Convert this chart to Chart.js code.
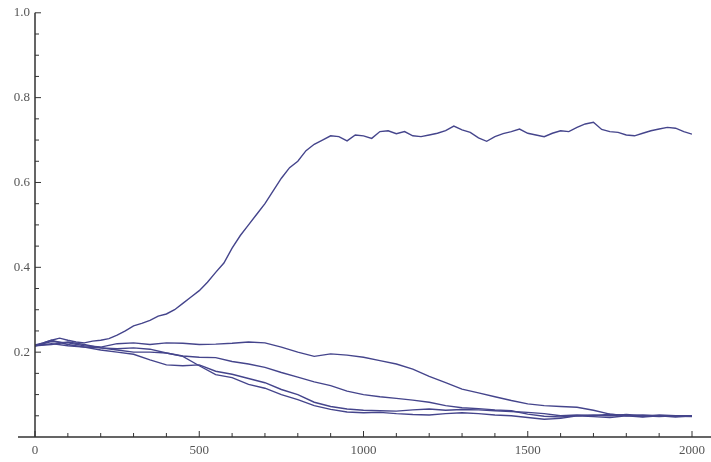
<!DOCTYPE html>
<html>
<head>
<meta charset="utf-8">
<script src="https://cdn.jsdelivr.net/npm/chart.js@4"></script>
<style>
  html, body { margin: 0; padding: 0; background: #fff; }
  #wrap { width: 711px; height: 462px; }
</style>
</head>
<body>
<div id="wrap"><canvas id="walkChart"></canvas></div>
<script>
// x positions (steps)
const stepsFine = [0, 25, 50, 75, 100, 125, 150, 175, 200, 225, 250, 275, 300, 325, 350, 375, 400, 425, 450, 475,
  500, 525, 550, 575, 600, 625, 650, 675, 700, 725, 750, 775, 800, 825, 850, 875, 900, 925, 950, 975,
  1000, 1025, 1050, 1075, 1100, 1125, 1150, 1175, 1200, 1225, 1250, 1275, 1300, 1325, 1350, 1375, 1400, 1425, 1450, 1475,
  1500, 1525, 1550, 1575, 1600, 1625, 1650, 1675, 1700, 1725, 1750, 1775, 1800, 1825, 1850, 1875, 1900, 1925, 1950, 1975, 2000];
const steps = [0, 50, 100, 150, 200, 250, 300, 350, 400, 450, 500, 550, 600, 650, 700, 750, 800, 850, 900, 950,
  1000, 1050, 1100, 1150, 1200, 1250, 1300, 1350, 1400, 1450, 1500, 1550, 1600, 1650, 1700, 1750, 1800, 1850, 1900, 1950, 2000];

// the one walk that climbs to ~0.72
const walkTop = [0.217, 0.222, 0.228, 0.233, 0.228, 0.224, 0.222, 0.226, 0.228, 0.232, 0.240, 0.250, 0.262, 0.268, 0.275, 0.285, 0.290, 0.300, 0.315, 0.330,
  0.345, 0.365, 0.388, 0.410, 0.445, 0.475, 0.500, 0.525, 0.550, 0.580, 0.610, 0.635, 0.650, 0.675, 0.690, 0.700, 0.710, 0.708, 0.698, 0.712,
  0.710, 0.704, 0.720, 0.722, 0.715, 0.720, 0.710, 0.708, 0.712, 0.716, 0.722, 0.733, 0.724, 0.718, 0.705, 0.697, 0.708, 0.715, 0.720, 0.726,
  0.716, 0.712, 0.708, 0.716, 0.722, 0.720, 0.730, 0.738, 0.742, 0.725, 0.720, 0.718, 0.712, 0.710, 0.716, 0.722, 0.726, 0.730, 0.728, 0.720, 0.714];

// the four walks that fall towards ~0.05
const walkB = [0.215, 0.225, 0.222, 0.215, 0.212, 0.220, 0.222, 0.218, 0.222, 0.221, 0.218, 0.219, 0.221, 0.224, 0.222, 0.212, 0.200, 0.190, 0.196, 0.193,
  0.188, 0.180, 0.172, 0.160, 0.143, 0.128, 0.113, 0.104, 0.095, 0.086, 0.078, 0.074, 0.072, 0.070, 0.063, 0.054, 0.050, 0.052, 0.050, 0.049, 0.048];
const walkC = [0.215, 0.220, 0.215, 0.212, 0.210, 0.208, 0.210, 0.207, 0.198, 0.191, 0.188, 0.187, 0.178, 0.172, 0.164, 0.152, 0.141, 0.130, 0.121, 0.108,
  0.100, 0.095, 0.091, 0.087, 0.082, 0.074, 0.069, 0.067, 0.064, 0.062, 0.054, 0.049, 0.047, 0.050, 0.052, 0.050, 0.053, 0.050, 0.048, 0.050, 0.049];
const walkD = [0.215, 0.228, 0.218, 0.212, 0.205, 0.200, 0.195, 0.182, 0.170, 0.168, 0.170, 0.155, 0.148, 0.138, 0.128, 0.112, 0.100, 0.082, 0.072, 0.066,
  0.063, 0.062, 0.061, 0.064, 0.066, 0.063, 0.065, 0.064, 0.062, 0.060, 0.058, 0.055, 0.050, 0.052, 0.050, 0.054, 0.051, 0.048, 0.052, 0.050, 0.050];
const walkE = [0.215, 0.218, 0.224, 0.218, 0.210, 0.205, 0.200, 0.200, 0.198, 0.190, 0.168, 0.147, 0.140, 0.124, 0.115, 0.100, 0.088, 0.074, 0.065, 0.059,
  0.057, 0.058, 0.055, 0.053, 0.052, 0.055, 0.057, 0.055, 0.052, 0.050, 0.046, 0.042, 0.044, 0.050, 0.048, 0.046, 0.050, 0.047, 0.050, 0.047, 0.050];

// axis ticks
const xMajor = [0, 500, 1000, 1500, 2000];
const xMinor = [100, 200, 300, 400, 600, 700, 800, 900, 1100, 1200, 1300, 1400, 1600, 1700, 1800, 1900];
const yMajor = [0.2, 0.4, 0.6, 0.8, 1.0];
const yMinor = [0.05, 0.1, 0.15, 0.25, 0.3, 0.35, 0.45, 0.5, 0.55, 0.65, 0.7, 0.75, 0.85, 0.9, 0.95];

const lineColor = "#45458c";
const axisColor = "#333";

function toPoints(xs, ys) {
  return xs.map((x, i) => ({ x: x, y: ys[i] }));
}

function walk(xs, ys) {
  return {
    data: toPoints(xs, ys),
    borderColor: lineColor,
    borderWidth: 1.4,
    pointRadius: 0,
    tension: 0,
    fill: false
  };
}

// Mathematica-like axes: ticks drawn inward, axis lines running past the origin
const inwardAxes = {
  id: "inwardAxes",
  afterDraw(chart) {
    const { ctx, scales: { x, y } } = chart;
    const x0 = x.getPixelForValue(0);
    const y0 = y.getPixelForValue(0);
    ctx.save();
    ctx.strokeStyle = axisColor;
    ctx.lineWidth = 1.5;
    ctx.beginPath();
    ctx.moveTo(18, y0);
    ctx.lineTo(chart.width, y0);
    ctx.moveTo(x0, y0);
    ctx.lineTo(x0, y.getPixelForValue(1.0));
    ctx.stroke();

    ctx.lineWidth = 1;
    ctx.beginPath();
    xMajor.concat(xMinor).forEach(v => {
      const px = x.getPixelForValue(v);
      const len = xMajor.includes(v) ? 6 : 4;
      ctx.moveTo(px, y0);
      ctx.lineTo(px, y0 - len);
    });
    yMajor.concat(yMinor).forEach(v => {
      const py = y.getPixelForValue(v);
      const len = yMajor.includes(v) ? 6 : 4;
      ctx.moveTo(x0, py);
      ctx.lineTo(x0 + len, py);
    });
    ctx.stroke();
    ctx.restore();
  }
};

const ctx = document.getElementById("walkChart").getContext("2d");
new Chart(ctx, {
  type: "line",
  data: {
    datasets: [
      walk(stepsFine, walkTop),
      walk(steps, walkB),
      walk(steps, walkC),
      walk(steps, walkD),
      walk(steps, walkE)
    ]
  },
  options: {
    responsive: true,
    maintainAspectRatio: false,
    animation: false,
    layout: { padding: { top: 10, right: 17, left: 0, bottom: 0 } },
    plugins: {
      legend: { display: false },
      tooltip: { enabled: false }
    },
    scales: {
      x: {
        type: "linear",
        min: 0,
        max: 2000,
        afterFit: (s) => { s.height = 25; },
        grid: { display: false, drawTicks: false },
        border: { display: false },
        ticks: {
          stepSize: 500,
          padding: 6,
          color: "#555",
          font: { family: "Liberation Serif", size: 13 },
          maxRotation: 0,
          callback: (v) => String(v)
        }
      },
      y: {
        min: 0,
        max: 1,
        afterFit: (s) => { s.width = 35; },
        grid: { display: false, drawTicks: false },
        border: { display: false },
        ticks: {
          stepSize: 0.2,
          padding: 5,
          color: "#555",
          font: { family: "Liberation Serif", size: 13 },
          callback: (v) => v === 0 ? "" : v.toFixed(1)
        }
      }
    }
  },
  plugins: [inwardAxes]
});
</script>
</body>
</html>
